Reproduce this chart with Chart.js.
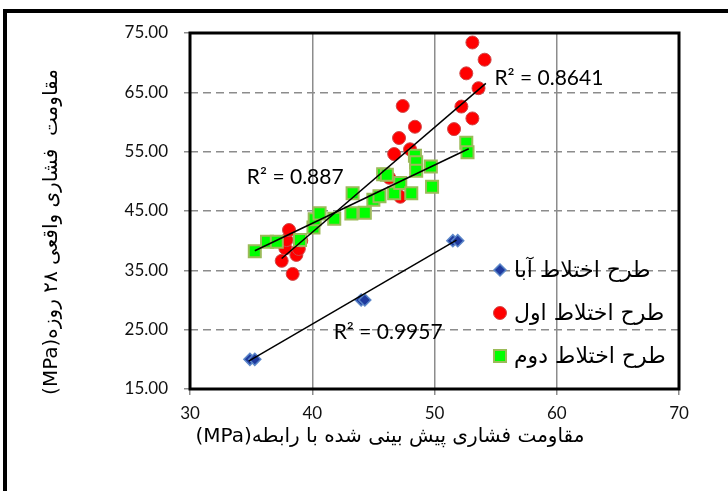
<!DOCTYPE html>
<html>
<head>
<meta charset="utf-8">
<script src="https://cdn.jsdelivr.net/npm/chart.js@4.4.1/dist/chart.umd.min.js"></script>
<style>
  html, body { margin: 0; padding: 0; background: #fff; }
  #wrap { width: 728px; height: 491px; }
</style>
</head>
<body>
<div id="wrap"><canvas id="strengthChart" width="728" height="491"></canvas></div>
<script>
// series names (legend)
const seriesNames = ['طرح اختلاط آبا', 'طرح اختلاط اول', 'طرح اختلاط دوم'];

// axis titles
const xTitle = 'مقاومت فشاری پیش بینی شده با رابطه(MPa)';
const yTitle = 'مقاومت  فشاری واقعی ۲۸ روزه(MPa)';

// axis ranges / ticks
const xMin = 30, xMax = 70, xStep = 10;
const yMin = 15, yMax = 75, yStep = 10;

// mix design "Aba"
const abaX = [34.9, 35.3, 44.0, 44.3, 51.5, 51.9];
const abaY = [20.0, 20.0, 30.0, 30.0, 40.0, 40.0];

// mix design 1
const avvalX = [37.5, 37.8, 37.9, 38.1, 38.4, 38.7, 38.9, 39.1, 46.3, 46.7, 47.1, 47.2,
                47.4, 48.0, 48.4, 51.6, 52.2, 52.6, 53.1, 53.1, 53.6, 54.1];
const avvalY = [36.6, 38.7, 40.1, 41.8, 34.4, 37.6, 38.6, 40.0, 50.6, 54.6, 57.3, 47.4,
                62.7, 55.4, 59.2, 58.8, 62.6, 68.2, 60.6, 73.4, 65.7, 70.5];

// mix design 2
const dovomX = [35.3, 36.3, 37.1, 39.0, 40.1, 40.2, 40.6, 41.8, 43.2, 43.3, 44.3, 45.0, 45.5,
                45.8, 46.1, 46.7, 47.2, 48.1, 48.4, 48.5, 48.5, 49.7, 49.8, 52.6, 52.7];
const dovomY = [38.2, 39.8, 39.8, 40.1, 42.2, 43.6, 44.6, 43.7, 44.6, 48.0, 44.7, 46.9, 47.5,
                51.2, 51.1, 48.0, 49.7, 48.0, 54.3, 53.2, 51.8, 52.5, 49.1, 56.5, 54.9];

// linear trend lines (end points)
const trendAbaX = [34.8, 51.8];
const trendAbaY = [19.7, 40.1];
const trendAvvalX = [37.5, 54.2];
const trendAvvalY = [37.0, 66.5];
const trendDovomX = [35.3, 52.8];
const trendDovomY = [38.3, 55.5];

// R² values
const r2Texts = ['R² = 0.9957', 'R² = 0.8641', 'R² = 0.887'];

const toPoints = (xs, ys) => xs.map((x, i) => ({ x, y: ys[i] }));

const pointStyles = [
  { pointStyle: 'rectRot', radius: 6, backgroundColor: '#1f3a9e', borderColor: '#5b86c8', borderWidth: 1.5 },
  { pointStyle: 'circle', radius: 6.5, backgroundColor: '#ff0000', borderColor: '#d04848', borderWidth: 1 },
  { pointStyle: 'rect', radius: 8.5, backgroundColor: '#00ff00', borderColor: '#9bbb59', borderWidth: 2 }
];

function scatterSet(label, xs, ys, style, order) {
  return {
    label,
    data: toPoints(xs, ys),
    pointStyle: style.pointStyle,
    pointRadius: style.radius,
    pointBackgroundColor: style.backgroundColor,
    pointBorderColor: style.borderColor,
    pointBorderWidth: style.borderWidth,
    showLine: false,
    order
  };
}

function trendSet(xs, ys) {
  return {
    label: 'trend',
    data: toPoints(xs, ys),
    showLine: true,
    borderColor: '#000',
    borderWidth: 1.5,
    pointRadius: 0,
    order: 0
  };
}

/**
 * Draws the outer frame, dashed horizontal grid, plot border, R² labels, legend and axis titles.
 */
const decorations = {
  id: 'decorations',
  beforeDraw(chart) {
    const { ctx, width, height } = chart;
    ctx.save();
    ctx.fillStyle = '#fff';
    ctx.fillRect(0, 0, width, height);
    ctx.fillStyle = '#000';
    ctx.fillRect(3, 9, 4, height - 9);
    ctx.fillRect(3, 9, width - 3, 4);
    ctx.restore();
  },
  afterDatasetsDraw(chart) {
    const { ctx, chartArea: ca, scales } = chart;
    ctx.save();

    // plot area border
    ctx.strokeStyle = '#000';
    ctx.lineWidth = 3;
    ctx.strokeRect(ca.left, ca.top, ca.right - ca.left, ca.bottom - ca.top);

    // R² labels, anchored in data units
    const r2Anchors = [[41.75, 24.6], [54.9, 67.3], [34.65, 50.75]];
    ctx.fillStyle = '#000';
    ctx.font = '21px Lato, "Liberation Sans", sans-serif';
    ctx.direction = 'ltr';
    ctx.textAlign = 'left';
    ctx.textBaseline = 'middle';
    r2Texts.forEach((t, i) => {
      ctx.fillText(t, scales.x.getPixelForValue(r2Anchors[i][0]), scales.y.getPixelForValue(r2Anchors[i][1]));
    });

    // legend inside the plot
    ctx.font = '22px "DejaVu Sans", sans-serif';
    ctx.direction = 'rtl';
    seriesNames.forEach((name, i) => {
      const y = ca.top + 237 + i * 43;
      const s = pointStyles[i];
      ctx.fillStyle = s.backgroundColor;
      ctx.strokeStyle = s.borderColor;
      ctx.lineWidth = s.borderWidth;
      Chart.helpers.drawPoint(ctx, {
        pointStyle: s.pointStyle, radius: s.radius, rotation: 0, borderWidth: s.borderWidth
      }, ca.left + 310, y);
      ctx.fillStyle = '#000';
      ctx.textAlign = 'left';
      ctx.fillText(name, ca.left + 324, y + 1);
    });

    // axis titles
    ctx.fillStyle = '#000';
    ctx.font = '20px "DejaVu Sans", sans-serif';
    ctx.textAlign = 'center';
    ctx.fillText(xTitle, 390, 437);
    ctx.translate(52, 232);
    ctx.rotate(-Math.PI / 2);
    ctx.fillText(yTitle, 0, 0);

    ctx.restore();
  }
};

function init() {
  const ctx = document.getElementById('strengthChart').getContext('2d');
  new Chart(ctx, {
    type: 'scatter',
    data: {
      datasets: [
        trendSet(trendAbaX, trendAbaY),
        trendSet(trendAvvalX, trendAvvalY),
        trendSet(trendDovomX, trendDovomY),
        scatterSet(seriesNames[2], dovomX, dovomY, pointStyles[2], 1),
        scatterSet(seriesNames[1], avvalX, avvalY, pointStyles[1], 2),
        scatterSet(seriesNames[0], abaX, abaY, pointStyles[0], 3)
      ]
    },
    options: {
      responsive: false,
      animation: false,
      events: [],
      layout: { padding: { left: 0, top: 33, right: 49, bottom: 0 } },
      plugins: {
        legend: { display: false },
        tooltip: { enabled: false }
      },
      scales: {
        x: {
          type: 'linear',
          min: xMin,
          max: xMax,
          afterFit: s => { s.height = 102; },
          ticks: {
            stepSize: xStep,
            padding: 8,
            color: '#111',
            font: { family: 'Lato, "Liberation Sans", sans-serif', size: 17 }
          },
          grid: { color: '#8c8c8c', lineWidth: 1.5, tickLength: 6 },
          border: { display: false }
        },
        y: {
          type: 'linear',
          min: yMin,
          max: yMax,
          afterFit: s => { s.width = 190; },
          ticks: {
            stepSize: yStep,
            padding: 16,
            color: '#111',
            callback: v => Number(v).toFixed(2),
            font: { family: 'Lato, "Liberation Sans", sans-serif', size: 17 }
          },
          grid: { color: '#8c8c8c', lineWidth: 1.5, tickLength: 6 },
          border: { display: true, width: 0, color: 'rgba(0,0,0,0)', dash: [8, 5] }
        }
      }
    },
    plugins: [decorations]
  });
}

document.addEventListener('DOMContentLoaded', init);
</script>
</body>
</html>
